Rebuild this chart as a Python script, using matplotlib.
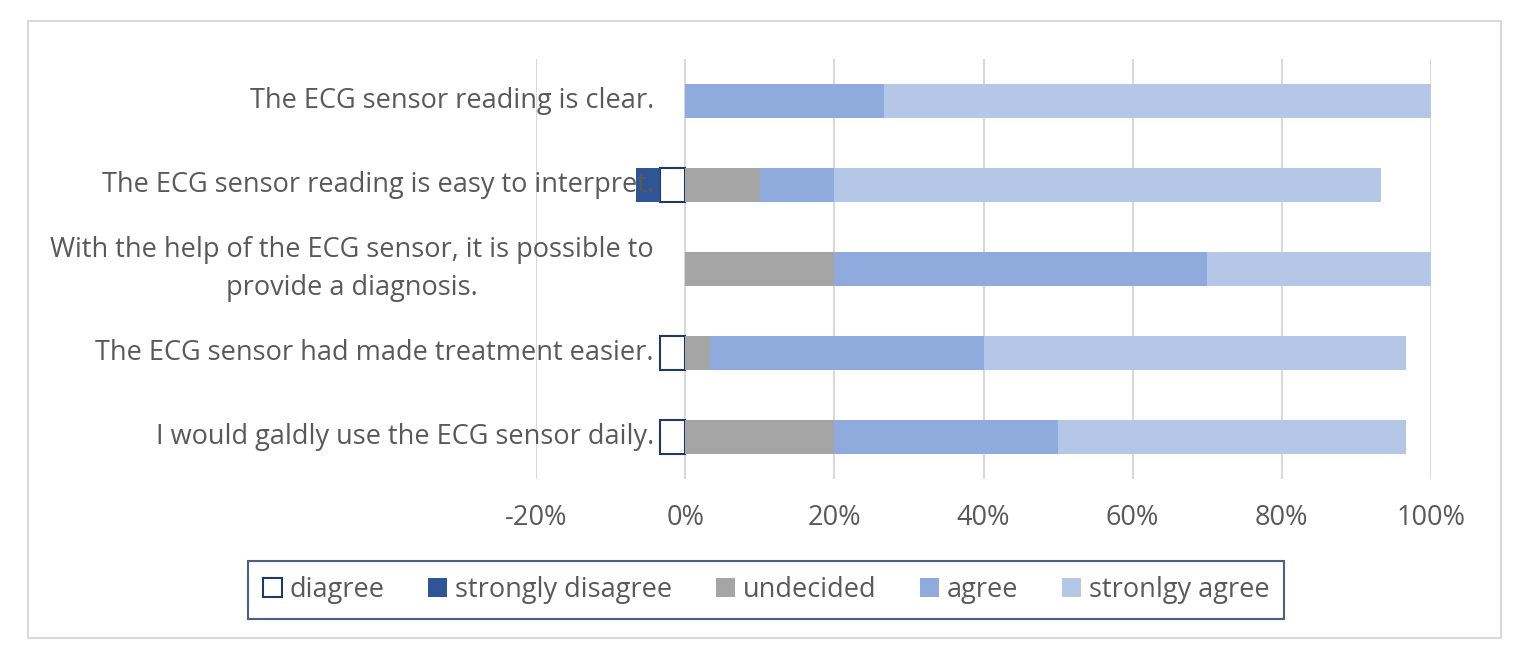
import matplotlib.pyplot as plt
import matplotlib.patches as mpatches
import numpy as np

plt.rcParams['font.family'] = ['Open Sans', 'DejaVu Sans']

statements = ["The ECG sensor reading is clear.",
              "The ECG sensor reading is easy to interpret.",
              "With the help of the ECG sensor, it is possible to\nprovide a diagnosis.",
              "The ECG sensor had made treatment easier.",
              "I would galdly use the ECG sensor daily."]
# percent of answers, statements listed top to bottom
disagree = [0, 3.33, 0, 3.33, 3.33]
strongly_disagree = [0, 3.33, 0, 0, 0]
undecided = [0, 10, 20, 3.33, 20]
agree = [26.67, 10, 50, 36.67, 30]
strongly_agree = [73.33, 73.33, 30, 56.67, 46.67]
xticks = [-20, 0, 20, 40, 60, 80, 100]

txt_col = '#595959'
navy = '#203864'
fs = 19.5

fig = plt.figure(figsize=(15.29, 6.53), dpi=100)
ax = fig.add_axes([0.3506, 0.2665, 0.5853, 0.6431])

y = np.arange(len(statements))
h = 0.4
dis = -np.array(disagree)
sdis = -np.array(strongly_disagree)
und = np.array(undecided)
agr = np.array(agree)
sag = np.array(strongly_agree)

m = dis != 0
ax.barh(y[m], dis[m], h, color='white', edgecolor=navy, linewidth=1.5, zorder=2, label='diagree')
ax.barh(y, sdis, h, left=dis, color='#2F5597', zorder=2, label='strongly disagree')
ax.barh(y, und, h, color='#A5A5A5', zorder=2, label='undecided')
ax.barh(y, agr, h, left=und, color='#8FAADC', zorder=2, label='agree')
ax.barh(y, sag, h, left=und + agr, color='#B4C7E7', zorder=2, label='stronlgy agree')

ax.set_xlim(-20, 100)
ax.set_ylim(len(statements) - 0.5, -0.5)
ax.set_xticks(xticks)
ax.set_xticklabels([f"{v}%" for v in xticks], fontsize=fs, color=txt_col)
ax.tick_params(axis='x', length=0, pad=18)
ax.set_yticks([])
ax.grid(axis='x', color='#D9D9D9', linewidth=1.5, zorder=0)
ax.set_axisbelow(True)
for s in ax.spines.values():
    s.set_visible(False)

for i, s in enumerate(statements):
    ax.text(-4.2, i, s, ha='right', va='center', multialignment='center',
            fontsize=fs, color=txt_col, zorder=3, clip_on=False, linespacing=1.45)

handles, labels = ax.get_legend_handles_labels()
leg = fig.legend(handles, labels, loc='center', bbox_to_anchor=(0.501, 0.097), ncol=5,
                 fontsize=fs, frameon=True, fancybox=False, handlelength=0.7, handleheight=0.7,
                 handletextpad=0.3, columnspacing=1.6, borderpad=0.55, labelcolor=txt_col)
leg.get_frame().set_edgecolor(navy)
leg.get_frame().set_linewidth(1.5)

fig.patches.append(mpatches.Rectangle((28 / 1529, 1 - 638 / 653), 1473 / 1529, 617 / 653,
                                      transform=fig.transFigure, fill=False,
                                      edgecolor='#D9D9D9', linewidth=1.5))

fig.savefig('out.png', dpi=100)
